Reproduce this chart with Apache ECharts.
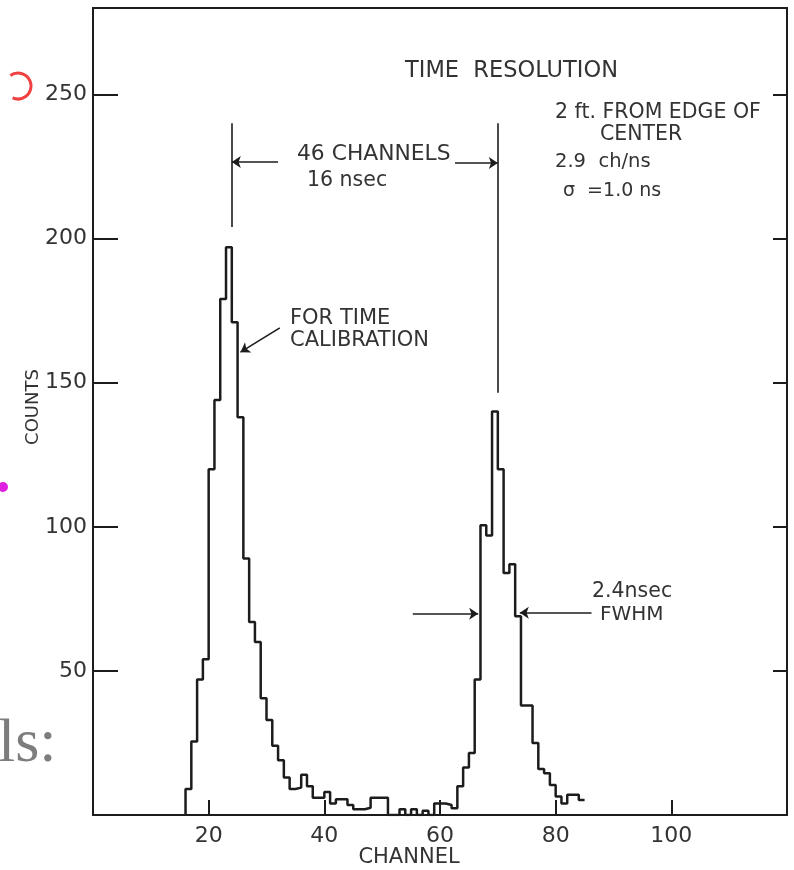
<!DOCTYPE html>
<html>
<head>
<meta charset="utf-8">
<script src="https://cdn.jsdelivr.net/npm/echarts@6/dist/echarts.min.js"></script>
<style>
  html, body { margin: 0; padding: 0; background: #fff; }
  #chart { width: 794px; height: 870px; }
</style>
</head>
<body>
<div id="chart"></div>
<script>
// channel = left edge of each bin, counts
var channels = [16, 17, 18, 19, 20, 21, 22, 23, 24, 25, 26, 27, 28, 29, 30, 31, 32, 33, 34, 35,
  36, 37, 38, 39, 40, 41, 42, 43, 44, 45, 46, 47, 48, 49, 50, 51, 52, 53, 54, 55,
  56, 57, 58, 59, 60, 61, 62, 63, 64, 65, 66, 67, 68, 69, 70, 71, 72, 73, 74, 75,
  76, 77, 78, 79, 80, 81, 82, 83, 84];
var counts = [9, 25.5, 47, 54, 120, 144, 179, 197, 171, 138, 89, 67, 60, 40.5, 33, 24, 19, 13, 9, 9.5,
  14, 10, 6, 6, 8, 4, 5.5, 5.5, 3.5, 2, 2, 2.5, 6, 6, 6, 0, 0, 2, 0, 2,
  0, 1.5, 0, 4, 4, 3.5, 2.3, 10, 16.5, 21.5, 47, 100.5, 97, 140, 120, 84, 87, 69, 38, 38,
  25, 16, 14.5, 10.4, 6.4, 4, 7, 7, 5.2];
var lastEdge = 85;

var xTicks = [20, 40, 60, 80, 100];
var yTicks = [50, 100, 150, 200, 250];

var FONT = '"DejaVu Sans", "Liberation Sans", sans-serif';
var INK = '#1c1c1c';
var TXT = '#333';

// step outline of the histogram
var stepData = [[channels[0], 0]];
channels.forEach(function (c, i) {
  stepData.push([c, counts[i]]);
});
stepData.push([lastEdge, counts[counts.length - 1]]);

function seg(x1, y1, x2, y2, arrow) {
  return [
    { coord: [x1, y1], symbol: 'none' },
    { coord: [x2, y2], symbol: arrow ? 'arrow' : 'none' }
  ];
}

function label(text, x, y, size, align) {
  return {
    type: 'text',
    x: x,
    y: y,
    silent: true,
    style: {
      text: text,
      font: size + 'px ' + FONT,
      fill: TXT,
      textAlign: align || 'left',
      textVerticalAlign: 'middle',
      verticalAlign: 'middle'
    }
  };
}

var chart = echarts.init(document.getElementById('chart'));
chart.setOption({
  animation: false,
  backgroundColor: '#fff',
  grid: {
    left: 93,
    right: 7,
    top: 8,
    bottom: 55,
    show: true,
    borderColor: INK,
    borderWidth: 2
  },
  xAxis: {
    type: 'value',
    min: 0,
    max: 120,
    interval: 20,
    splitLine: { show: false },
    axisLine: { show: false },
    axisTick: { inside: true, length: 15, lineStyle: { color: INK, width: 2 } },
    axisLabel: {
      margin: 10,
      color: TXT,
      fontSize: 22,
      fontFamily: FONT,
      formatter: function (v) {
        return xTicks.indexOf(v) >= 0 ? String(v) : '';
      }
    }
  },
  yAxis: [
    {
      type: 'value',
      min: 0,
      max: 280,
      interval: 50,
      splitLine: { show: false },
      axisLine: { show: false },
      axisTick: { inside: true, length: 25, lineStyle: { color: INK, width: 2 } },
      axisLabel: {
        margin: 6,
        color: TXT,
        fontSize: 22,
        fontFamily: FONT,
        formatter: function (v) {
          return yTicks.indexOf(v) >= 0 ? String(v) : '';
        }
      }
    },
    {
      type: 'value',
      position: 'right',
      min: 0,
      max: 280,
      interval: 50,
      splitLine: { show: false },
      axisLine: { show: false },
      axisTick: { inside: true, length: 14, lineStyle: { color: INK, width: 2 } },
      axisLabel: { show: false }
    }
  ],
  series: [
    {
      type: 'line',
      step: 'end',
      data: stepData,
      showSymbol: false,
      silent: true,
      lineStyle: { color: INK, width: 2.5 },
      markLine: {
        silent: true,
        animation: false,
        symbolSize: 9,
        label: { show: false },
        lineStyle: { color: INK, width: 1.6, type: 'solid' },
        data: [
          seg(24, 240, 24, 204),          // left peak marker
          seg(70, 240, 70, 146.5),        // right peak marker
          seg(32, 226.6, 24, 226.6, true),
          seg(62.6, 226.2, 70, 226.2, true),
          seg(32.3, 169, 25.5, 160.6, true),
          seg(55.3, 69.8, 66.6, 69.8, true),
          seg(86.2, 70.2, 73.8, 70.2, true)
        ]
      }
    }
  ],
  graphic: [
    label('TIME  RESOLUTION', 405, 71, 22.5),
    label('46 CHANNELS', 297, 154, 21.8),
    label('16 nsec', 307, 181, 20.5),
    label('2 ft. FROM EDGE OF', 555, 113, 20.5),
    label('CENTER', 600, 135, 20.5),
    label('2.9  ch/ns', 555, 162, 19.5),
    label('σ  =1.0 ns', 563, 191, 19),
    label('FOR TIME', 290, 319, 21),
    label('CALIBRATION', 290, 341, 21),
    label('2.4nsec', 592, 592, 20.5),
    label('FWHM', 600, 615, 20),
    label('CHANNEL', 409, 858, 21, 'center'),
    {
      type: 'text',
      x: 33,
      y: 407,
      rotation: Math.PI / 2,
      silent: true,
      style: {
        text: 'COUNTS',
        font: '18px ' + FONT,
        fill: TXT,
        textAlign: 'center',
        textVerticalAlign: 'middle',
        verticalAlign: 'middle'
      }
    },
    // leftovers of the slide the scan was cut from
    {
      type: 'text',
      x: -2,
      y: 745,
      silent: true,
      style: {
        text: 'ls:',
        font: '62px "Liberation Serif", serif',
        fill: '#7d7d7d',
        textAlign: 'left',
        textVerticalAlign: 'middle',
        verticalAlign: 'middle'
      }
    },
    {
      type: 'arc',
      silent: true,
      shape: { cx: 18, cy: 86, r: 13, startAngle: -2.2, endAngle: 2.0 },
      style: { stroke: '#f04040', lineWidth: 3, fill: null }
    },
    {
      type: 'circle',
      silent: true,
      shape: { cx: 3, cy: 487, r: 5 },
      style: { fill: '#e020e0' }
    }
  ]
});
</script>
</body>
</html>
